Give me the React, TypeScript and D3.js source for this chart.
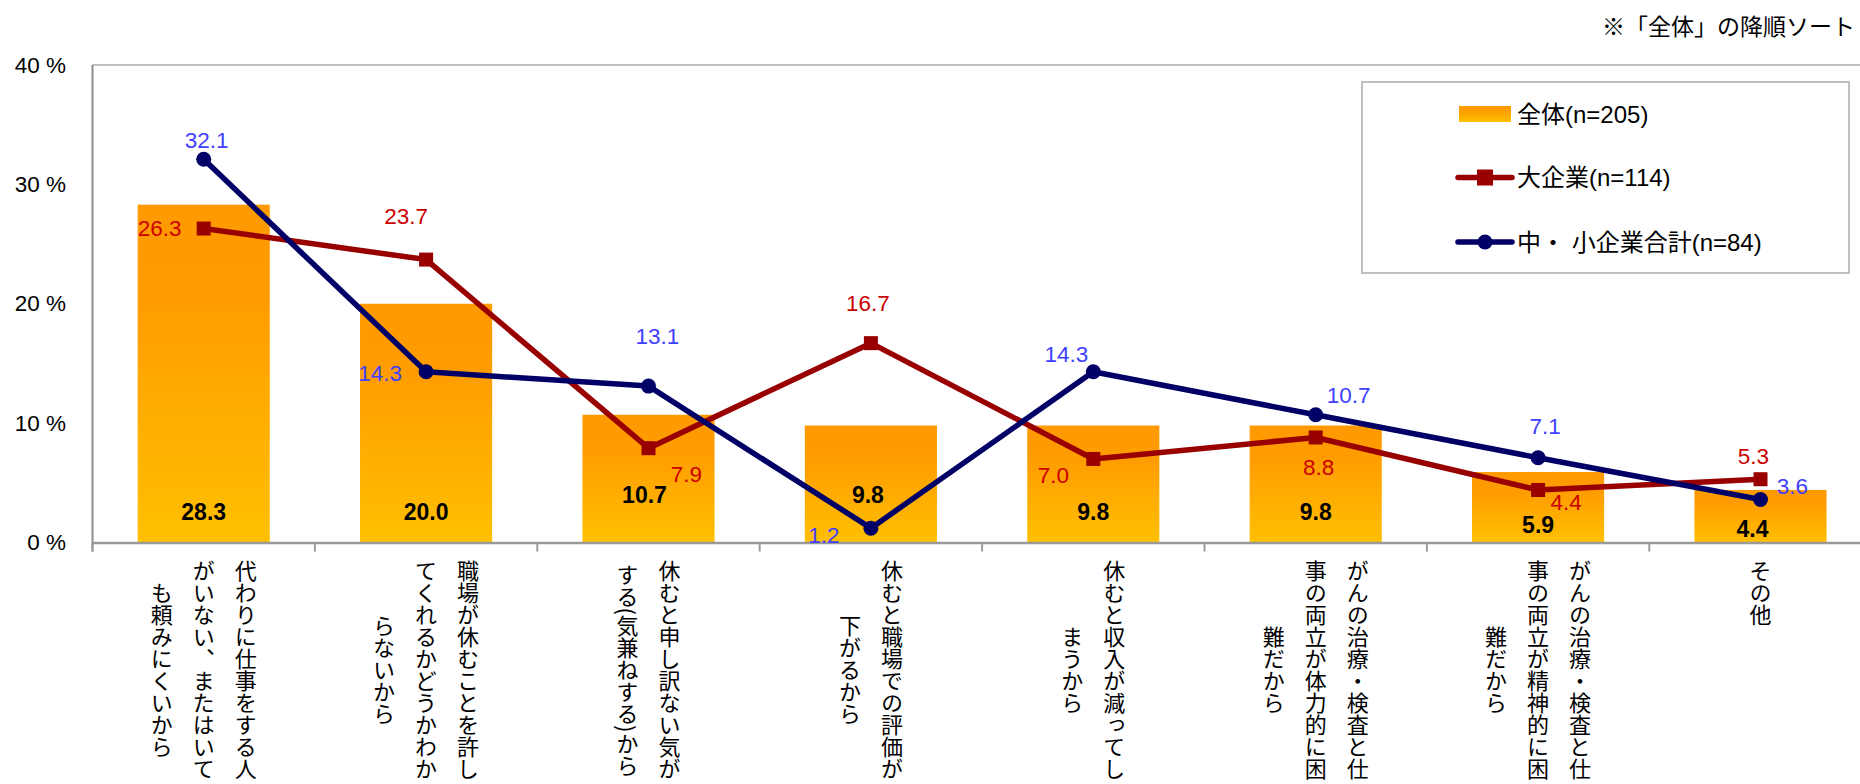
import React, { useEffect, useRef } from "react";
import * as d3 from "d3";

// ---- data ----
const categoryLines: string[][] = [
  ["代わりに仕事をする人", "がいない、またはいて", "も頼みにくいから"],
  ["職場が休むことを許し", "てくれるかどうかわか", "らないから"],
  ["休むと申し訳ない気が", "する(気兼ねする)から"],
  ["休むと職場での評価が", "下がるから"],
  ["休むと収入が減ってし", "まうから"],
  ["がんの治療・検査と仕", "事の両立が体力的に困", "難だから"],
  ["がんの治療・検査と仕", "事の両立が精神的に困", "難だから"],
  ["その他"],
];
const totalValues = [28.3, 20.0, 10.7, 9.8, 9.8, 9.8, 5.9, 4.4];
const largeValues = [26.3, 23.7, 7.9, 16.7, 7.0, 8.8, 4.4, 5.3];
const smeValues = [32.1, 14.3, 13.1, 1.2, 14.3, 10.7, 7.1, 3.6];
const yTicks = [0, 10, 20, 30, 40];
const seriesNames = ["全体(n=205)", "大企業(n=114)", "中・ 小企業合計(n=84)"];
const noteText = "※「全体」の降順ソート";

// ---- label placement (pixel offsets of label centres from their marks) ----
const totalLabelShift: [number, number][] = [[0, 0], [0, 0], [-4, -17], [-3, -17], [0, 0], [0, 0], [0, 13], [-8, 17]];
const largeLabelShift: [number, number][] = [[-44, 0], [-20, -43], [38, 26], [-3, -40], [-40, 17], [3, 30], [28, 13], [-7, -23]];
const smeLabelShift: [number, number][] = [[3, -19], [-46, 2], [9, -50], [-47, 7], [-27, -17], [33, -19], [7, -31], [32, -13]];

const W = 1860;
const H = 784;
const LEFT = 92.5;
const TOP = 65;
const BOTTOM = 542.5;
const STEP = 222.4;
const LATIN = "'Liberation Sans', Arial, 'Noto Sans CJK JP', sans-serif";
const CJK = "'Noto Sans CJK JP', 'Liberation Sans', sans-serif";
const RED = "#990000";
const NAVY = "#000066";
const RED_TXT = "#CC0000";
const BLUE_TXT = "#4040FF";

export default function App() {
  const ref = useRef<SVGSVGElement>(null);

  useEffect(() => {
    document.body.style.margin = "0";
    document.body.style.overflow = "hidden";
    const svg = d3.select(ref.current as SVGSVGElement);
    svg.selectAll("*").remove();

    const idx = d3.range(categoryLines.length);
    const x = d3
      .scaleBand<number>()
      .domain(idx)
      .range([LEFT, LEFT + STEP * idx.length])
      .paddingInner(0.406)
      .paddingOuter(0.203);
    const y = d3.scaleLinear().domain([0, 40]).range([BOTTOM, TOP]);
    const cx = (i: number) => (x(i) as number) + x.bandwidth() / 2;

    const defs = svg.append("defs");
    const grad = defs
      .append("linearGradient")
      .attr("id", "barGrad")
      .attr("x1", 0).attr("y1", 0).attr("x2", 0).attr("y2", 1);
    grad.append("stop").attr("offset", "0%").attr("stop-color", "#FF9900");
    grad.append("stop").attr("offset", "30%").attr("stop-color", "#FF9D00");
    grad.append("stop").attr("offset", "100%").attr("stop-color", "#FFC000");

    svg.append("rect").attr("width", W).attr("height", H).attr("fill", "#fff");

    // note
    svg.append("text")
      .attr("x", 1855).attr("y", 25)
      .attr("text-anchor", "end").attr("dominant-baseline", "central")
      .attr("font-family", CJK).attr("font-size", 23).attr("fill", "#000")
      .text(noteText);

    // plot frame
    svg.append("line")
      .attr("x1", LEFT).attr("x2", W).attr("y1", TOP).attr("y2", TOP)
      .attr("stroke", "#c0c0c0").attr("stroke-width", 2);

    // y labels
    svg.selectAll(".ytick").data(yTicks).enter().append("text")
      .attr("x", 66).attr("y", (d) => y(d))
      .attr("text-anchor", "end").attr("dominant-baseline", "central")
      .attr("font-family", LATIN).attr("font-size", 22.5).attr("fill", "#000")
      .text((d) => `${d} %`);

    // bars
    svg.selectAll(".bar").data(totalValues).enter().append("rect")
      .attr("x", (_, i) => x(i) as number)
      .attr("width", x.bandwidth())
      .attr("y", (d) => y(d))
      .attr("height", (d) => y(0) - y(d))
      .attr("fill", "url(#barGrad)");

    // axes
    svg.append("line")
      .attr("x1", LEFT).attr("x2", LEFT).attr("y1", TOP).attr("y2", BOTTOM + 9)
      .attr("stroke", "#8c8c8c").attr("stroke-width", 2);
    svg.append("line")
      .attr("x1", LEFT).attr("x2", W).attr("y1", BOTTOM + 0.5).attr("y2", BOTTOM + 0.5)
      .attr("stroke", "#9a9a9a").attr("stroke-width", 2.5);
    svg.selectAll(".xtick").data(d3.range(idx.length + 1)).enter().append("line")
      .attr("x1", (d) => LEFT + d * x.step()).attr("x2", (d) => LEFT + d * x.step())
      .attr("y1", BOTTOM).attr("y2", BOTTOM + 9)
      .attr("stroke", "#9a9a9a").attr("stroke-width", 2);

    // lines
    const lineGen = d3.line<number>().x((_, i) => cx(i)).y((d) => y(d));
    svg.append("path").attr("d", lineGen(largeValues) as string)
      .attr("fill", "none").attr("stroke", RED).attr("stroke-width", 5.5).attr("stroke-linejoin", "round");
    svg.selectAll(".sq").data(largeValues).enter().append("rect")
      .attr("x", (_, i) => cx(i) - 7).attr("y", (d) => y(d) - 7)
      .attr("width", 14).attr("height", 14).attr("fill", RED);
    svg.append("path").attr("d", lineGen(smeValues) as string)
      .attr("fill", "none").attr("stroke", NAVY).attr("stroke-width", 5.5).attr("stroke-linejoin", "round");
    svg.selectAll(".dot").data(smeValues).enter().append("circle")
      .attr("cx", (_, i) => cx(i)).attr("cy", (d) => y(d)).attr("r", 7.5).attr("fill", NAVY);

    // bar labels
    svg.selectAll(".bl").data(totalValues).enter().append("text")
      .attr("x", (_, i) => cx(i) + totalLabelShift[i][0])
      .attr("y", (_, i) => y(0) - 30.5 + totalLabelShift[i][1])
      .attr("text-anchor", "middle").attr("dominant-baseline", "central")
      .attr("font-family", LATIN).attr("font-size", 23).attr("font-weight", "bold").attr("fill", "#000")
      .text((d) => d.toFixed(1));
    // line labels
    svg.selectAll(".ll").data(largeValues).enter().append("text")
      .attr("x", (_, i) => cx(i) + largeLabelShift[i][0])
      .attr("y", (d, i) => y(d) + largeLabelShift[i][1])
      .attr("text-anchor", "middle").attr("dominant-baseline", "central")
      .attr("font-family", LATIN).attr("font-size", 22.5).attr("fill", RED_TXT)
      .text((d) => d.toFixed(1));
    svg.selectAll(".sl").data(smeValues).enter().append("text")
      .attr("x", (_, i) => cx(i) + smeLabelShift[i][0])
      .attr("y", (d, i) => y(d) + smeLabelShift[i][1])
      .attr("text-anchor", "middle").attr("dominant-baseline", "central")
      .attr("font-family", LATIN).attr("font-size", 22.5).attr("fill", BLUE_TXT)
      .text((d) => d.toFixed(1));

    // category labels (vertical)
    const labelTop = 560;
    const colGap = 42;
    categoryLines.forEach((lines, i) => {
      const n = lines.length;
      const texts = lines.map((ln, j) =>
        svg.append("text")
          .attr("x", cx(i) + ((n - 1) / 2 - j) * colGap)
          .attr("y", labelTop)
          .style("writing-mode", "vertical-rl")
          .attr("font-family", CJK).attr("font-size", 22).attr("fill", "#000")
          .text(ln)
      );
      const lens = texts.map((t) => (t.node() as SVGTextElement).getComputedTextLength());
      const maxLen = Math.max(...lens);
      texts.forEach((t, j) => t.attr("y", labelTop + (maxLen - lens[j]) / 2));
    });

    // legend
    const lg = svg.append("g");
    lg.append("rect").attr("x", 1362).attr("y", 82).attr("width", 487).attr("height", 191)
      .attr("fill", "#fff").attr("stroke", "#c0c0c0").attr("stroke-width", 2);
    const rowY = [114, 177.5, 242];
    lg.append("rect").attr("x", 1459).attr("y", rowY[0] - 8).attr("width", 52).attr("height", 16)
      .attr("fill", "url(#barGrad)");
    lg.append("line").attr("x1", 1458).attr("x2", 1512).attr("y1", rowY[1]).attr("y2", rowY[1])
      .attr("stroke", RED).attr("stroke-width", 5.5).attr("stroke-linecap", "round");
    lg.append("rect").attr("x", 1485 - 8).attr("y", rowY[1] - 8).attr("width", 16).attr("height", 16).attr("fill", RED);
    lg.append("line").attr("x1", 1458).attr("x2", 1512).attr("y1", rowY[2]).attr("y2", rowY[2])
      .attr("stroke", NAVY).attr("stroke-width", 5.5).attr("stroke-linecap", "round");
    lg.append("circle").attr("cx", 1485).attr("cy", rowY[2]).attr("r", 7.5).attr("fill", NAVY);
    seriesNames.forEach((nm, k) => {
      lg.append("text").attr("x", 1517).attr("y", rowY[k])
        .attr("dominant-baseline", "central")
        .attr("font-family", LATIN).attr("font-size", 24).attr("fill", "#000")
        .text(nm);
    });
  }, []);

  return (
    <svg
      ref={ref}
      width={W}
      height={H}
      style={{ position: "absolute", left: 0, top: 0, display: "block" }}
    />
  );
}
